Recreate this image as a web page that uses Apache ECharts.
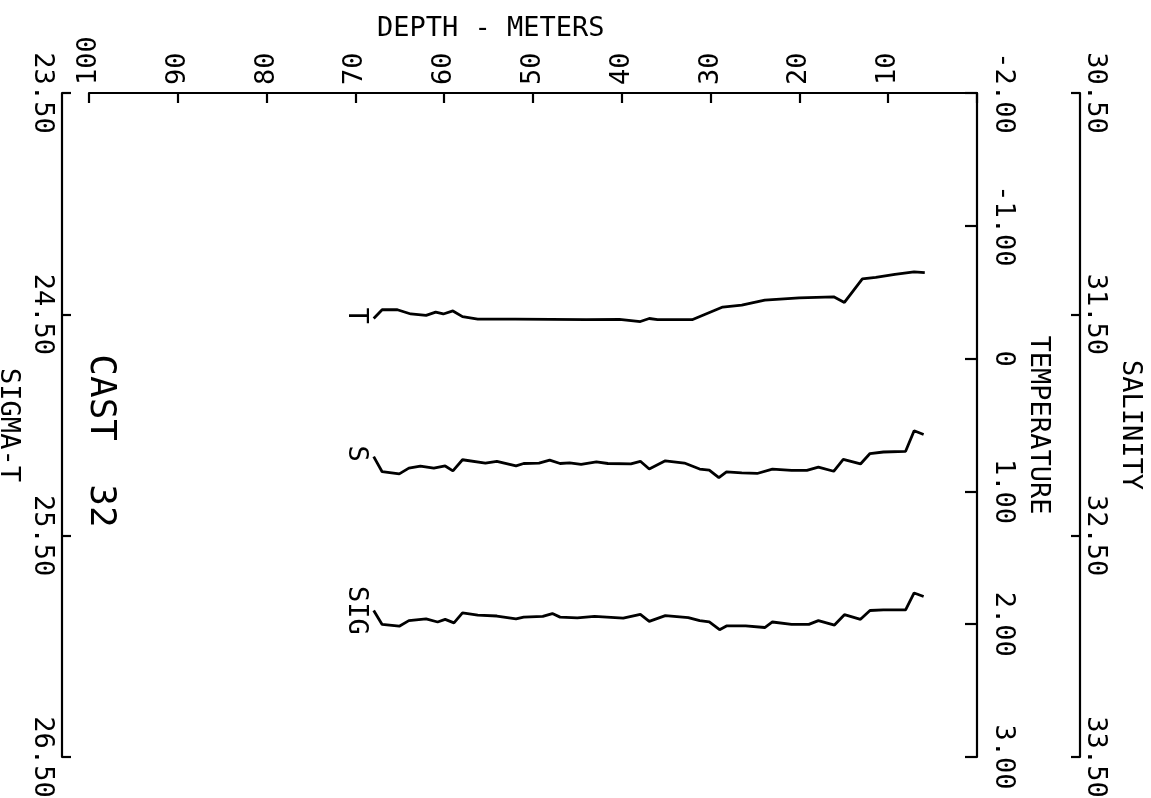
<!DOCTYPE html>
<html>
<head>
<meta charset="utf-8">
<script src="https://cdn.jsdelivr.net/npm/echarts@6/dist/echarts.min.js"></script>
<style>
html,body{margin:0;padding:0;background:#fff;}
#c{width:1151px;height:798px;}
</style>
</head>
<body>
<div id="c"></div>
<script>
// ---- data (depth in metres, values per variable) ----
const tempDepth = [67.94,66.99,65.27,63.76,62.04,60.96,60.10,59.02,57.94,56.22,52.0,48.0,44.0,40.27,37.91,36.91,35.97,32.08,28.64,26.49,23.90,20.02,16.14,14.93,12.91,11.40,9.25,7.09,5.88];
const tempValue = [-0.302,-0.368,-0.368,-0.336,-0.325,-0.350,-0.336,-0.359,-0.316,-0.298,-0.297,-0.296,-0.293,-0.295,-0.279,-0.302,-0.293,-0.293,-0.388,-0.402,-0.440,-0.457,-0.465,-0.423,-0.601,-0.612,-0.635,-0.653,-0.647];

const salDepth = [67.94,66.99,65.06,63.98,62.68,61.17,59.89,59.02,57.94,55.36,54.07,51.91,51.05,49.32,48.12,46.95,45.88,44.58,42.86,41.57,38.98,37.91,36.91,35.10,32.95,31.23,30.15,29.07,28.21,26.49,24.76,23.04,20.88,19.16,17.86,16.14,15.06,13.12,12.05,10.54,8.04,7.08,6.01];
const salValue = [32.143,32.211,32.221,32.195,32.186,32.195,32.185,32.207,32.157,32.172,32.164,32.185,32.174,32.172,32.159,32.174,32.171,32.178,32.167,32.174,32.176,32.164,32.199,32.162,32.172,32.199,32.204,32.238,32.212,32.216,32.219,32.199,32.205,32.205,32.190,32.209,32.155,32.176,32.129,32.122,32.119,32.026,32.043];

const sigDepth = [67.94,66.99,65.06,63.98,62.04,60.74,59.89,58.90,57.94,56.22,54.07,51.91,51.05,48.90,47.82,46.95,45.01,43.07,39.84,37.91,36.91,35.10,32.51,31.23,30.15,28.99,28.21,26.05,23.90,23.04,20.88,18.94,17.86,16.05,14.93,13.12,12.05,10.54,8.04,7.08,6.01];
const sigValue = [25.838,25.901,25.909,25.884,25.876,25.890,25.878,25.894,25.849,25.859,25.863,25.876,25.868,25.865,25.852,25.868,25.871,25.865,25.873,25.856,25.887,25.861,25.870,25.884,25.890,25.925,25.908,25.908,25.915,25.890,25.901,25.901,25.884,25.904,25.857,25.878,25.838,25.835,25.835,25.759,25.775];

const curveLabels = ['T','S','SIG'];
const curveLabelDepth = [69.9,69.9,69.9];
const curveLabelValue = [-0.323,32.129,25.838];

const castLabel = 'CAST  32';
const depthTitle = 'DEPTH - METERS';

// ---- chart ----
const FONT = 'DejaVu Sans Mono';
const chart = echarts.init(document.getElementById('c'), null, {renderer:'canvas'});
const pairs = (d, v) => d.map((x, i) => [x, v[i]]);
const lbl = (i) => ({
  coord:[curveLabelDepth[i], curveLabelValue[i]],
  symbol:'circle', symbolSize:1,
  itemStyle:{color:'rgba(0,0,0,0)'},
  label:{show:true, position:'inside', formatter:curveLabels[i], rotate:-90,
         color:'#000', fontSize:27, fontFamily:FONT}
});
const lineStyle = {color:'#000', width:2.8};
const axisLineStyle = {color:'#000', width:2.2};

chart.setOption({
  backgroundColor:'#ffffff',
  animation:false,
  title:{text:depthTitle, left:377, top:15, padding:0,
         textStyle:{fontFamily:FONT, fontSize:27, fontWeight:'normal', color:'#000'}},
  grid:{left:89, right:174, top:93, bottom:41, outerBoundsMode:'none', containLabel:false},
  xAxis:{
    type:'value', position:'top', inverse:true, min:0, max:100, interval:10,
    axisLine:{show:true, onZero:false, lineStyle:axisLineStyle},
    axisTick:{show:true, inside:true, length:10, lineStyle:axisLineStyle},
    axisLabel:{rotate:-90, margin:8, fontFamily:FONT, fontSize:27, color:'#000',
               formatter:(v)=> v===0 ? '' : String(v)},
    splitLine:{show:false}
  },
  yAxis:[
    {type:'value', position:'right', inverse:true, min:-2, max:3, interval:1,
     name:'TEMPERATURE', nameLocation:'middle', nameRotate:-90, nameGap:36,
     nameTextStyle:{fontFamily:FONT, fontSize:27, color:'#000'},
     axisLine:{show:true, onZero:false, lineStyle:axisLineStyle},
     axisTick:{show:true, inside:true, length:12, lineStyle:axisLineStyle},
     axisLabel:{rotate:-90, margin:13, fontFamily:FONT, fontSize:27, color:'#000',
                formatter:(v)=> v===0 ? '0' : v.toFixed(2)},
     splitLine:{show:false}},
    {type:'value', position:'right', offset:103, inverse:true, min:30.5, max:33.5, interval:1,
     name:'SALINITY', nameLocation:'middle', nameRotate:-90, nameGap:25,
     nameTextStyle:{fontFamily:FONT, fontSize:27, color:'#000'},
     axisLine:{show:true, onZero:false, lineStyle:axisLineStyle},
     axisTick:{show:true, inside:true, length:9, lineStyle:axisLineStyle},
     axisLabel:{rotate:-90, margin:2, fontFamily:FONT, fontSize:27, color:'#000',
                formatter:(v)=> v.toFixed(2)},
     splitLine:{show:false}},
    {type:'value', position:'left', offset:27, inverse:true, min:23.5, max:26.5, interval:1,
     name:'SIGMA-T', nameLocation:'middle', nameRotate:-90, nameGap:31,
     nameTextStyle:{fontFamily:FONT, fontSize:27, color:'#000'},
     axisLine:{show:true, onZero:false, lineStyle:axisLineStyle},
     axisTick:{show:true, inside:true, length:9, lineStyle:axisLineStyle},
     axisLabel:{rotate:-90, margin:6, fontFamily:FONT, fontSize:27, color:'#000',
                formatter:(v)=> v.toFixed(2)},
     splitLine:{show:false}}
  ],
  graphic:[{
    type:'text', x:100, y:441, rotation:-Math.PI/2,
    style:{text:castLabel, font:'36px "DejaVu Sans Mono"', fill:'#000',
           textAlign:'center', textVerticalAlign:'middle'}
  }],
  series:[
    {type:'line', name:'T', yAxisIndex:0, data:pairs(tempDepth,tempValue),
     showSymbol:false, lineStyle, markPoint:{data:[lbl(0)]}},
    {type:'line', name:'S', yAxisIndex:1, data:pairs(salDepth,salValue),
     showSymbol:false, lineStyle, markPoint:{data:[lbl(1)]}},
    {type:'line', name:'SIG', yAxisIndex:2, data:pairs(sigDepth,sigValue),
     showSymbol:false, lineStyle, markPoint:{data:[lbl(2)]}}
  ]
});
</script>
</body>
</html>
